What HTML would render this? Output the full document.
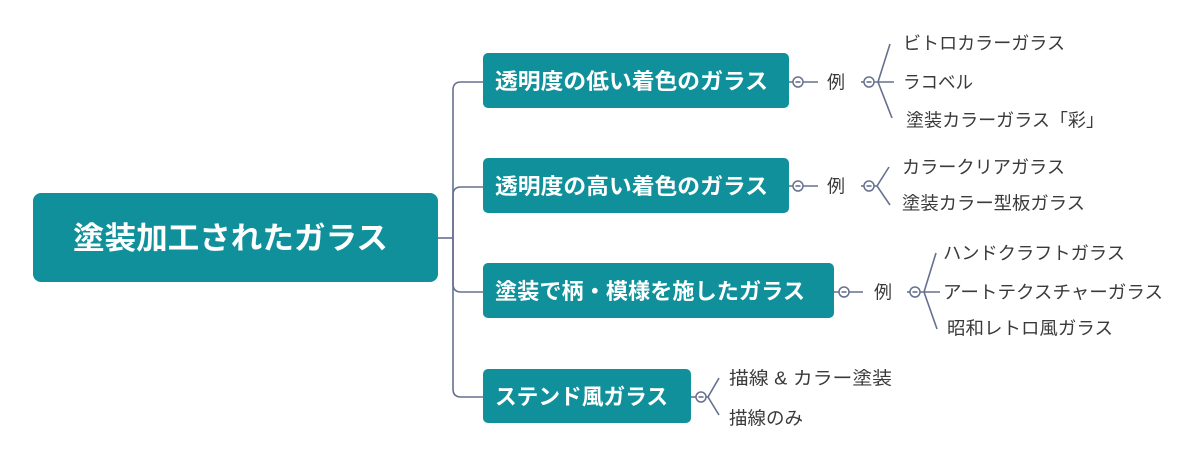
<!DOCTYPE html>
<html>
<head>
<meta charset="utf-8">
<style>
  html, body { margin: 0; padding: 0; background: #ffffff; }
  body { width: 1200px; height: 459px; overflow: hidden; }
  svg { display: block; }
  .jp { font-family: "Liberation Sans", "Noto Sans CJK JP", sans-serif; }
  .box { fill: #0f909b; }
  .bt { fill: #ffffff; font-weight: bold; font-size: 22px; }
  .ct { fill: #3a3a3a; font-size: 18px; }
  .ln { stroke: #66708f; stroke-width: 1.6; fill: none; }
  .cir { stroke: #66708f; stroke-width: 1.5; fill: #ffffff; }
</style>
</head>
<body>
<svg width="1200" height="459" viewBox="0 0 1200 459" xmlns="http://www.w3.org/2000/svg" class="jp">
  <!-- root -->
  <rect class="box" x="33" y="193" width="405" height="89" rx="8"/>
  <text x="73" y="249" fill="#ffffff" font-size="31" font-weight="bold" textLength="315" lengthAdjust="spacingAndGlyphs">塗装加工されたガラス</text>

  <!-- trunk connectors -->
  <path class="ln" d="M438,238 H453"/>
  <path class="ln" d="M483,82 H461 Q453,82 453,90 V389 Q453,397 461,397 H483"/>
  <path class="ln" d="M453,238 V195 Q453,187 461,187 H483"/>
  <path class="ln" d="M453,238 V284 Q453,292 461,292 H483"/>

  <!-- branch boxes -->
  <rect class="box" x="483" y="53" width="306" height="55" rx="5"/>
  <text class="bt" x="495" y="89" textLength="273" lengthAdjust="spacingAndGlyphs">透明度の低い着色のガラス</text>

  <rect class="box" x="483" y="158" width="306" height="55" rx="5"/>
  <text class="bt" x="495" y="194" textLength="273" lengthAdjust="spacingAndGlyphs">透明度の高い着色のガラス</text>

  <rect class="box" x="483" y="263" width="351" height="55" rx="5"/>
  <text class="bt" x="495" y="299" textLength="310" lengthAdjust="spacingAndGlyphs">塗装で柄・模様を施したガラス</text>

  <rect class="box" x="483" y="369" width="208" height="54" rx="5"/>
  <text class="bt" x="495" y="404.5" textLength="173" lengthAdjust="spacingAndGlyphs">ステンド風ガラス</text>

  <!-- Branch 1 -->
  <path class="ln" d="M789,82 H793 M803,82 H818"/>
  <circle class="cir" cx="798" cy="82" r="5"/>
  <path class="ln" d="M795.5,82 H800.5" stroke-width="1.2"/>
  <text class="ct" x="827" y="88.5" font-size="17">例</text>
  <path class="ln" d="M861,82 H864"/>
  <circle class="cir" cx="869" cy="82" r="5"/>
  <path class="ln" d="M866.5,82 H871.5" stroke-width="1.2"/>
  <path class="ln" d="M874,82 H894 M890,44 L878,82 L892,118"/>
  <text class="ct" x="903" y="49.5" textLength="162" lengthAdjust="spacingAndGlyphs">ビトロカラーガラス</text>
  <text class="ct" x="903" y="88.5" textLength="70" lengthAdjust="spacingAndGlyphs">ラコベル</text>
  <text class="ct" x="906" y="126.5" textLength="198" lengthAdjust="spacingAndGlyphs">塗装カラーガラス「彩」</text>

  <!-- Branch 2 -->
  <path class="ln" d="M789,186 H793 M803,186 H818"/>
  <circle class="cir" cx="798" cy="186" r="5"/>
  <path class="ln" d="M795.5,186 H800.5" stroke-width="1.2"/>
  <text class="ct" x="827" y="192.5" font-size="17">例</text>
  <path class="ln" d="M861,186 H864"/>
  <circle class="cir" cx="869" cy="186" r="5"/>
  <path class="ln" d="M866.5,186 H871.5" stroke-width="1.2"/>
  <path class="ln" d="M874,186 H877 M889,167 L877,186 L890,205"/>
  <text class="ct" x="902" y="173.5" textLength="163" lengthAdjust="spacingAndGlyphs">カラークリアガラス</text>
  <text class="ct" x="902" y="209.5" textLength="183" lengthAdjust="spacingAndGlyphs">塗装カラー型板ガラス</text>

  <!-- Branch 3 -->
  <path class="ln" d="M834,292 H839 M849,292 H863"/>
  <circle class="cir" cx="844" cy="292" r="5"/>
  <path class="ln" d="M841.5,292 H846.5" stroke-width="1.2"/>
  <text class="ct" x="874" y="298.5" font-size="17">例</text>
  <path class="ln" d="M907,292 H910"/>
  <circle class="cir" cx="915" cy="292" r="5"/>
  <path class="ln" d="M912.5,292 H917.5" stroke-width="1.2"/>
  <path class="ln" d="M920,292 H940 M936,253 L924,292 L937,329"/>
  <text class="ct" x="943" y="259.5" textLength="182" lengthAdjust="spacingAndGlyphs">ハンドクラフトガラス</text>
  <text class="ct" x="943" y="298.5" textLength="220" lengthAdjust="spacingAndGlyphs">アートテクスチャーガラス</text>
  <text class="ct" x="947" y="334.5" textLength="166" lengthAdjust="spacingAndGlyphs">昭和レトロ風ガラス</text>

  <!-- Branch 4 -->
  <path class="ln" d="M691,397 H696"/>
  <circle class="cir" cx="701" cy="397" r="5"/>
  <path class="ln" d="M698.5,397 H703.5" stroke-width="1.2"/>
  <path class="ln" d="M706,397 H708 M719,378 L708,397 L719,415"/>
  <text class="ct" x="729" y="384.5" textLength="163" lengthAdjust="spacingAndGlyphs">描線 &amp; カラー塗装</text>
  <text class="ct" x="729" y="424.5" textLength="74" lengthAdjust="spacingAndGlyphs">描線のみ</text>
</svg>
</body>
</html>
